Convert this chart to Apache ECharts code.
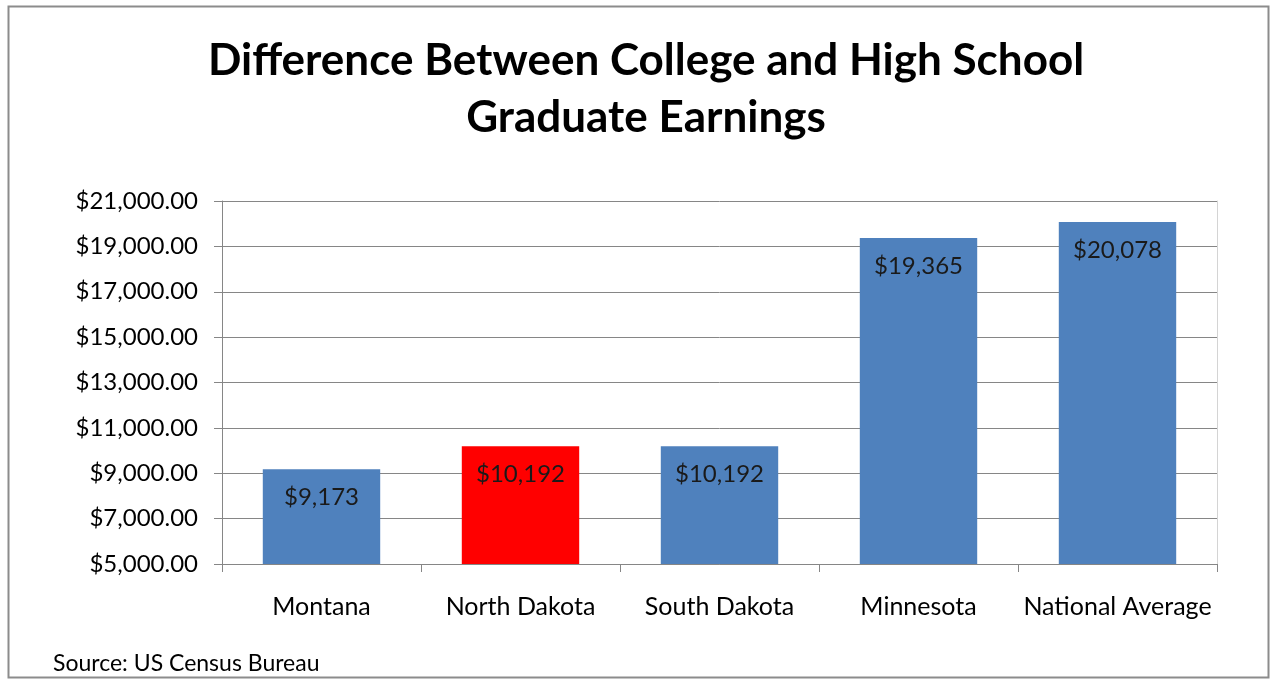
<!DOCTYPE html>
<html>
<head>
<meta charset="utf-8">
<script src="https://cdn.jsdelivr.net/npm/echarts@6/dist/echarts.min.js"></script>
<style>
  html, body { margin: 0; padding: 0; background: #fff; }
  #chart { width: 1271px; height: 679px; }
</style>
</head>
<body>
<div id="chart"></div>
<script>
// categories + values
var states = ['Montana', 'North Dakota', 'South Dakota', 'Minnesota', 'National Average'];
var earnings = [9173, 10192, 10192, 19365, 20078];
var barColors = ['#4F81BD', '#FF0000', '#4F81BD', '#4F81BD', '#4F81BD'];
var yTicks = { min: 5000, max: 21000, step: 2000 };

var font = 'Lato, "Open Sans", sans-serif';

function money2(v) {//axis labels with cents
  return '$' + v.toLocaleString('en-US', { minimumFractionDigits: 2, maximumFractionDigits: 2 });
}

var chart = echarts.init(document.getElementById('chart'));
chart.setOption({
  animation: false,
  textStyle: { fontFamily: font },
  graphic: [
    {
      type: 'rect',
      shape: { x: 8.5, y: 6.5, width: 1260, height: 671 },
      style: { fill: 'none', stroke: '#8c8c8c', lineWidth: 2 },
      silent: true
    }
  ],
  title: [
    {
      text: 'Difference Between College and High School\nGraduate Earnings',
      left: 641, top: 27, textAlign: 'center',
      textStyle: { fontFamily: font, fontWeight: 'bold', fontSize: 44, lineHeight: 57, color: '#000' }
    },
    {
      text: 'Source: US Census Bureau',
      left: 48, top: 647,
      textStyle: { fontFamily: font, fontWeight: 'normal', fontSize: 23, color: '#000' }
    }
  ],
  grid: { left: 222, right: 54, top: 201, bottom: 115, containLabel: false },
  xAxis: {
    type: 'category',
    data: states,
    axisLine: { lineStyle: { color: '#868686', width: 1 } },
    axisTick: { show: true, length: 8, lineStyle: { color: '#868686' } },
    axisLabel: { interval: 0, fontFamily: font, fontSize: 25, color: '#000', margin: 30 }
  },
  yAxis: [
    {
      type: 'value',
      min: yTicks.min, max: yTicks.max, interval: yTicks.step,
      axisLine: { show: true, lineStyle: { color: '#868686' } },
      axisTick: { show: true, length: 8, lineStyle: { color: '#868686' } },
      splitLine: { lineStyle: { color: '#868686', width: 1 } },
      axisLabel: { fontFamily: font, fontSize: 24, color: '#000', margin: 24, formatter: money2 }
    },
    {
      type: 'value', position: 'right',
      min: yTicks.min, max: yTicks.max, interval: yTicks.step,
      axisLine: { show: true, lineStyle: { color: '#d4d4d4' } },
      axisTick: { show: false }, axisLabel: { show: false }, splitLine: { show: false }
    }
  ],
  series: [
    {
      type: 'bar',
      barWidth: '59%',
      data: earnings.map(function (v, i) {
        return { value: v, itemStyle: { color: barColors[i] } };
      }),
      label: {
        show: true,
        position: 'insideTop',
        distance: 16,
        fontFamily: font,
        fontSize: 24,
        color: '#1a1a1a',
        formatter: function (p) { return '$' + p.value.toLocaleString('en-US'); }
      }
    }
  ]
});
</script>
</body>
</html>
